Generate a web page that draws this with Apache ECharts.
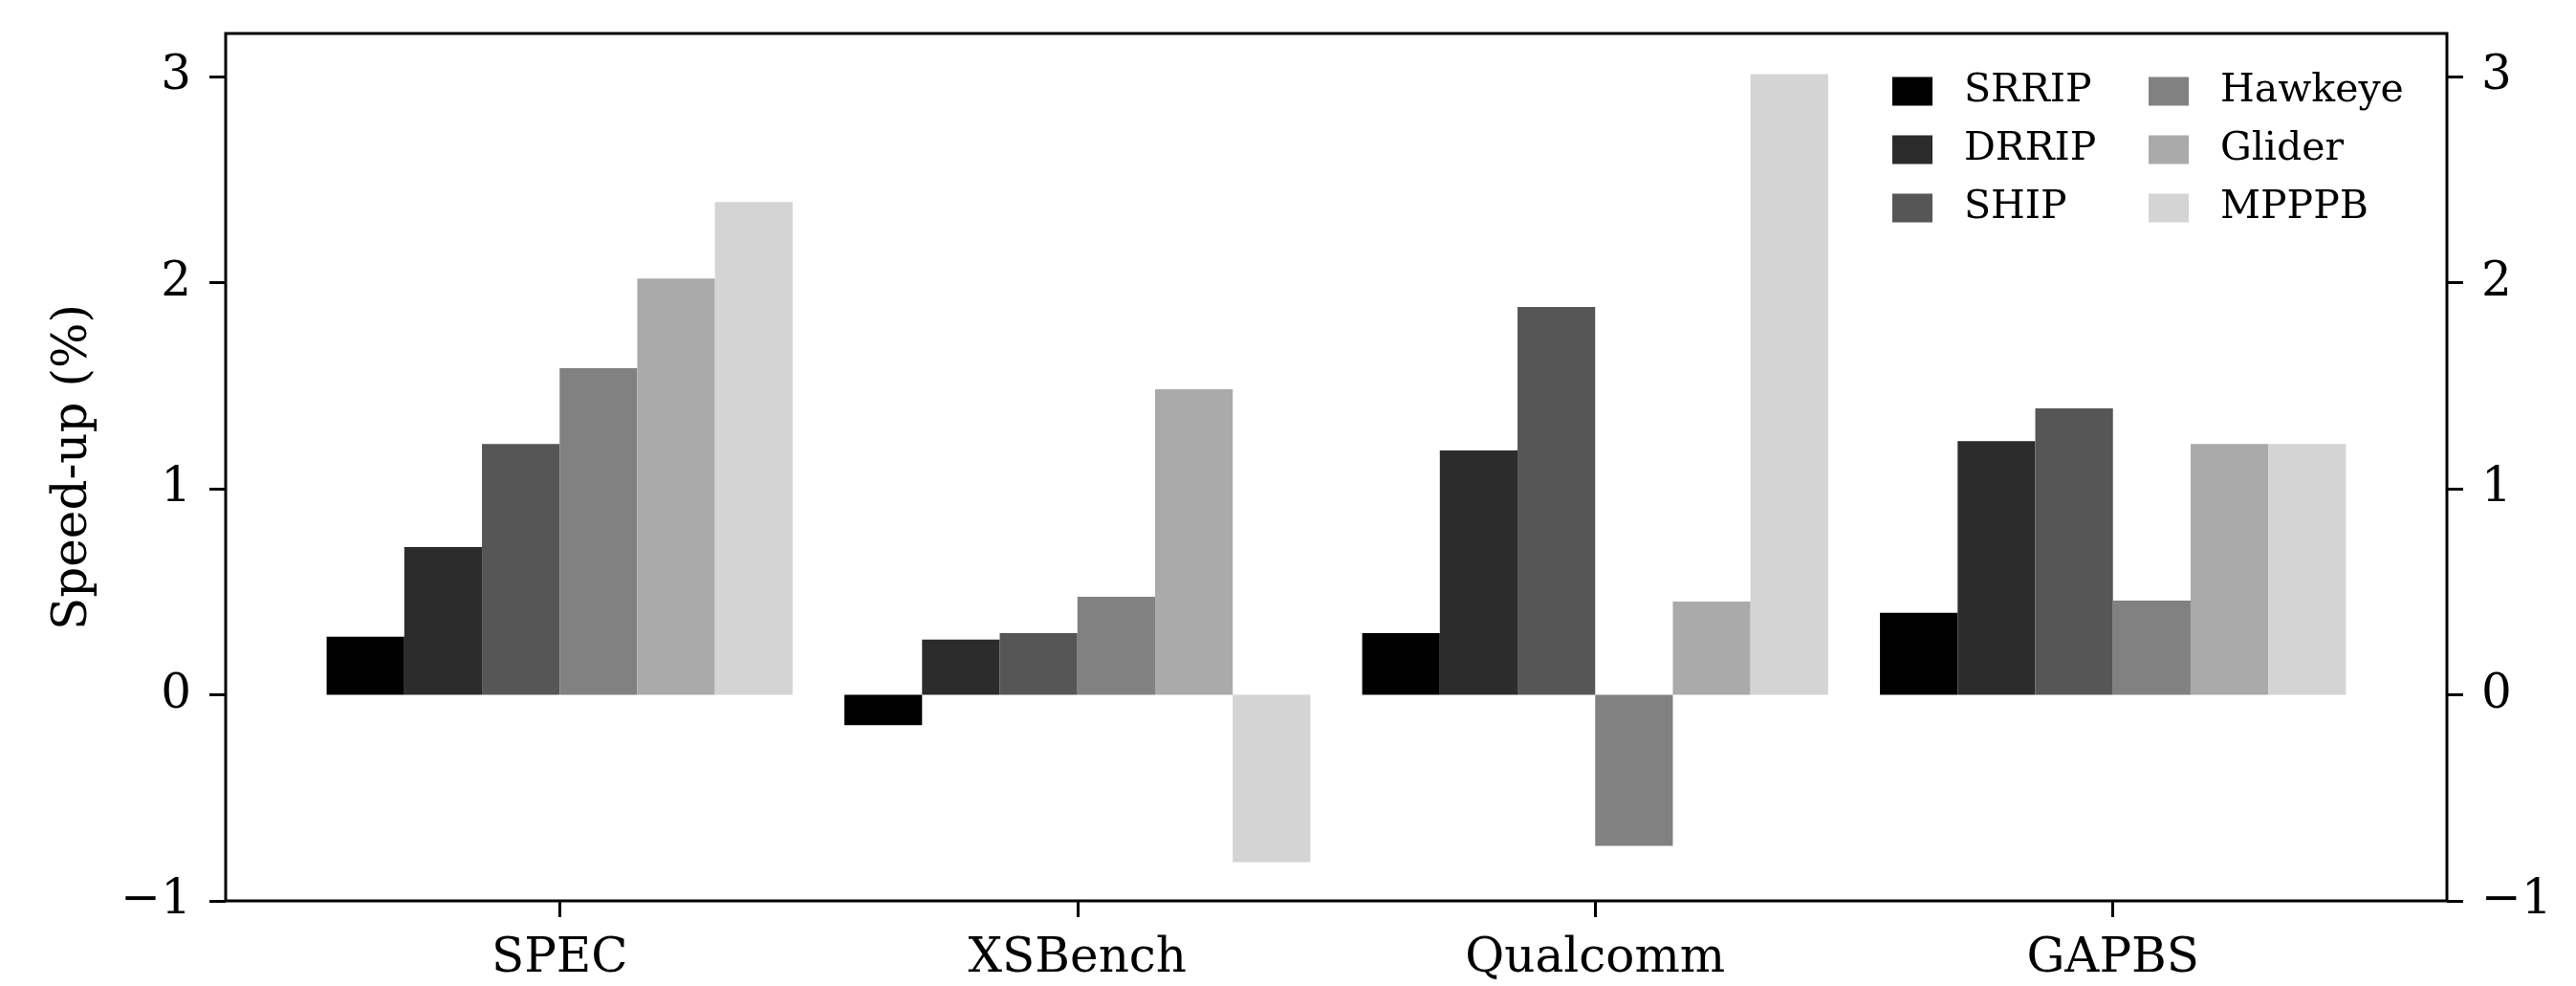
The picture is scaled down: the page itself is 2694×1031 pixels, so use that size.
<!DOCTYPE html>
<html><head><meta charset="utf-8">
<script src="https://cdn.jsdelivr.net/npm/echarts@6/dist/echarts.min.js"></script>
<style>html,body{margin:0;padding:0;background:#fff}#c{width:2694px;height:1031px}</style>
</head><body><div id="c"></div>
<script>
const categories = ['SPEC', 'XSBench', 'Qualcomm', 'GAPBS'];
const seriesNames = ['SRRIP', 'DRRIP', 'SHIP', 'Hawkeye', 'Glider', 'MPPPB'];
const SRRIP   = [0.282, -0.147, 0.300, 0.398];
const DRRIP   = [0.717, 0.268, 1.186, 1.232];
const SHIP    = [1.218, 0.300, 1.882, 1.390];
const Hawkeye = [1.585, 0.476, -0.733, 0.458];
const Glider  = [2.021, 1.483, 0.453, 1.218];
const MPPPB   = [2.392, -0.812, 3.013, 1.218];
const yTicks = [-1, 0, 1, 2, 3];
const xTicks = [0, 1, 2, 3];
const colors = ['#000000', '#2c2c2c', '#565656', '#818181', '#aaaaaa', '#d4d4d4'];

const values = [SRRIP, DRRIP, SHIP, Hawkeye, Glider, MPPPB];
const FONT = 'DejaVu Serif';
const fmtY = v => (v < 0 ? '\u2212' + Math.abs(v) : String(v));

const yAxisCommon = {
  type: 'value', min: -1, max: 3.21, interval: 1,
  axisLine: { show: false, onZero: false },
  splitLine: { show: false },
  axisTick: { show: true, length: 17, lineStyle: { color: '#000', width: 3 }, customValues: yTicks },
  axisLabel: { color: '#000', fontFamily: FONT, fontSize: 50, margin: 36, customValues: yTicks, formatter: fmtY }
};

const chart = echarts.init(document.getElementById('c'), null, { renderer: 'canvas' });
chart.setOption({
  animation: false,
  backgroundColor: '#fff',
  grid: { left: 236, right: 135, top: 35, bottom: 89, show: true, borderColor: '#000', borderWidth: 3, backgroundColor: 'transparent' },
  legend: [
    {
      data: seriesNames.slice(0, 3), orient: 'vertical', left: 1974, top: 70,
      itemWidth: 42, itemHeight: 30, itemGap: 20, icon: 'rect', selectedMode: false,
      textStyle: { color: '#000', fontFamily: FONT, fontSize: 41, lineHeight: 41, padding: [0, 0, 0, 28] }
    },
    {
      data: seriesNames.slice(3), orient: 'vertical', left: 2242, top: 70,
      itemWidth: 42, itemHeight: 30, itemGap: 20, icon: 'rect', selectedMode: false,
      textStyle: { color: '#000', fontFamily: FONT, fontSize: 41, lineHeight: 41, padding: [0, 0, 0, 28] }
    }
  ],
  xAxis: {
    type: 'value', min: -0.645, max: 3.645,
    axisLine: { show: false, onZero: false },
    splitLine: { show: false },
    axisTick: { show: true, length: 17, lineStyle: { color: '#000', width: 3 }, customValues: xTicks },
    axisLabel: { color: '#000', fontFamily: FONT, fontSize: 50, margin: 36, customValues: xTicks,
      formatter: v => categories[Math.round(v)] || '' }
  },
  yAxis: [
    Object.assign({}, yAxisCommon, {
      position: 'left',
      name: 'Speed-up (%)', nameLocation: 'middle', nameRotate: 90, nameGap: 134,
      nameTextStyle: { color: '#000', fontFamily: FONT, fontSize: 50 }
    }),
    Object.assign({}, yAxisCommon, { position: 'right' })
  ],
  series: seriesNames.map((name, i) => ({
    name: name, type: 'bar', xAxisIndex: 0, yAxisIndex: 0,
    barWidth: '15%', barGap: '0%',
    itemStyle: { color: colors[i] },
    data: values[i].map((v, j) => [xTicks[j], v])
  }))
});
</script></body></html>
